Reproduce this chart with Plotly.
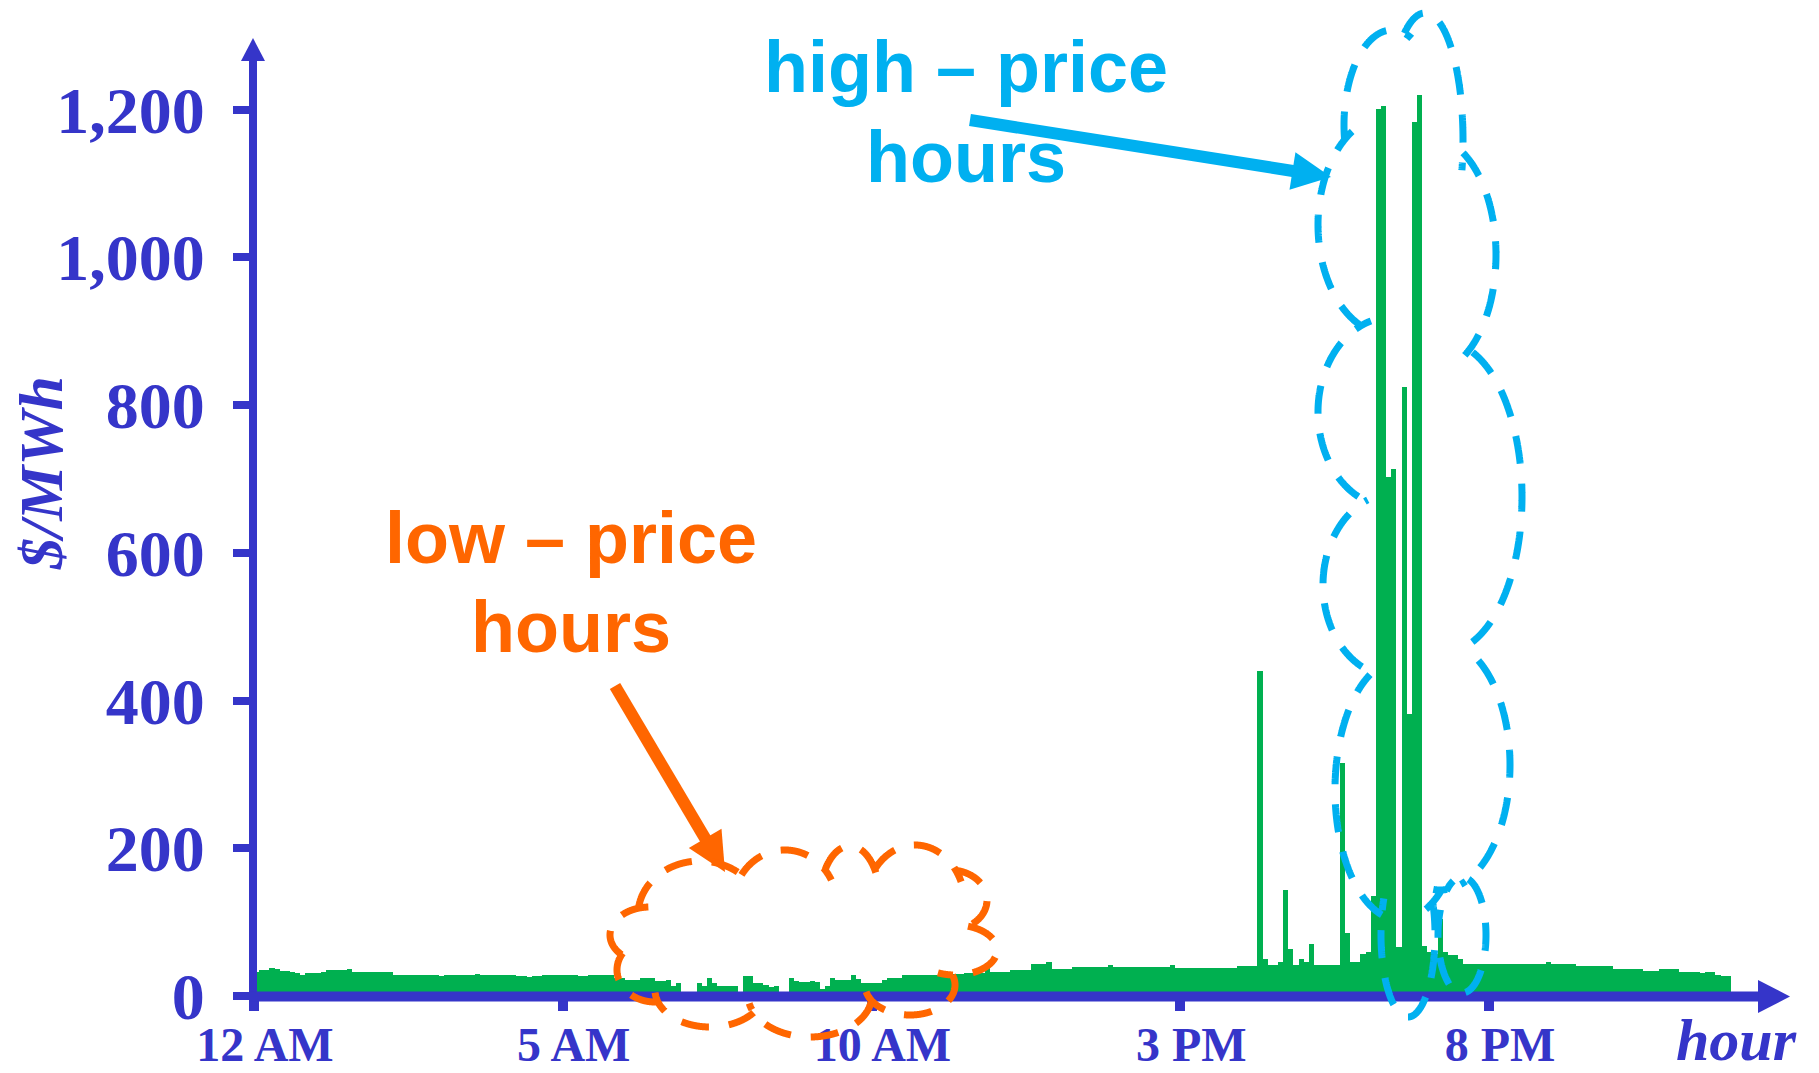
import numpy as np
import plotly.graph_objects as go

# ---- data: 5-minute real-time prices ($/MWh), one row per hour ----
prices = [
    32, 35, 35, 38, 36, 34, 34, 32, 31, 29, 31, 31,        # 12 AM
    31, 32, 35, 35, 35, 35, 37, 32, 32, 32, 32, 32,        # 1 AM
    32, 32, 32, 29, 29, 29, 29, 29, 29, 29, 29, 29,        # 2 AM
    27, 29, 29, 29, 29, 29, 29, 30, 29, 29, 29, 29,        # 3 AM
    29, 29, 29, 27, 27, 26, 27, 27, 29, 29, 29, 28,        # 4 AM
    29, 29, 29, 27, 27, 28, 28, 29, 28, 28, 24, 24,        # 5 AM
    22, 22, 22, 24, 24, 24, 20, 20, 21, 14, 17, 3,         # 6 AM
    2, 3, 17, 14, 24, 17, 14, 14, 14, 14, 3, 27,           # 7 AM
    27, 18, 18, 15, 12, 14, 3, 3, 24, 20, 19, 19,          # 8 AM
    20, 19, 10, 13, 24, 21, 21, 22, 28, 23, 18, 18,        # 9 AM
    18, 18, 21, 24, 24, 24, 28, 28, 28, 28, 28, 28,        # 10 AM
    28, 29, 29, 30, 30, 30, 31, 31, 31, 31, 38, 32,        # 11 AM
    32, 32, 32, 35, 35, 35, 35, 43, 43, 43, 46, 36,        # 12 PM
    36, 36, 36, 39, 39, 39, 39, 39, 39, 39, 42, 39,        # 1 PM
    39, 39, 39, 39, 39, 39, 39, 39, 39, 39, 42, 38,        # 2 PM
    38, 38, 38, 38, 38, 38, 38, 38, 38, 38, 38, 40,        # 3 PM
    40, 40, 40, 440, 50, 42, 42, 46, 143, 64, 42, 50,      # 4 PM
    46, 71, 42, 42, 42, 42, 42, 316, 85, 46, 46, 57,       # 5 PM
    60, 136, 1201, 1205, 703, 713, 67, 825, 382, 1183, 1219, 68,  # 6 PM
    60, 57, 104, 60, 56, 56, 50, 43, 43, 43, 43, 43,       # 7 PM
    43, 43, 43, 43, 43, 43, 43, 43, 43, 43, 43, 46,        # 8 PM
    44, 44, 44, 44, 44, 40, 40, 40, 41, 41, 41, 41,        # 9 PM
    37, 37, 37, 36, 36, 36, 34, 34, 34, 36, 36, 36,        # 10 PM
    36, 33, 33, 33, 33, 31, 33, 33, 29, 27, 27,            # 11 PM
]
hour_ticks = [0, 5, 10, 15, 20]
hour_labels = ["12 AM", "5 AM", "10 AM", "3 PM", "8 PM"]
price_ticks = [0, 200, 400, 600, 800, 1000, 1200]
price_labels = ["0", "200", "400", "600", "800", "1,000", "1,200"]

BLUE = "#3535C9"
GREEN = "#00B050"
ORANGE = "#FF6600"
CYAN = "#00B0F0"

W, H = 1819, 1073
L, R, T, B = 254, 1790, 38, 996          # plot area edges (px)
PX_PER_HOUR = 61.75
PX_PER_UNIT = 0.73875

def px(x):
    return (x - L) / (R - L)

def py(y):
    return (B - y) / (B - T)

hours = (np.arange(len(prices)) + 0.5) / 12.0

fig = go.Figure(go.Bar(
    x=hours, y=prices, width=1 / 12.0,
    marker=dict(color=GREEN, line=dict(width=0)),
    hoverinfo="skip",
))

serif = "Liberation Serif"
sans = "Liberation Sans"

fig.update_layout(
    width=W, height=H,
    margin=dict(l=L, r=W - R, t=T, b=H - B, autoexpand=False),
    paper_bgcolor="white", plot_bgcolor="white",
    showlegend=False, bargap=0,
    xaxis=dict(
        range=[0, (R - L) / PX_PER_HOUR], automargin=False,
        tickvals=hour_ticks, ticktext=hour_labels,
        ticks="outside", ticklen=14, tickwidth=10, tickcolor=BLUE,
        tickfont=dict(family=serif, size=48, color=BLUE, weight="bold"),
        ticklabelstandoff=-8, ticklabelshift=11,
        showgrid=False, zeroline=False, showline=False,
    ),
    yaxis=dict(
        range=[0, (B - T) / PX_PER_UNIT], automargin=False,
        tickvals=price_ticks, ticktext=price_labels,
        ticks="outside", ticklen=20, tickwidth=8, tickcolor=BLUE,
        tickfont=dict(family=serif, size=66, color=BLUE, weight="bold"),
        ticklabelstandoff=15,
        showgrid=False, zeroline=False, showline=False,
    ),
)

shapes = []

def tri(p1, p2, p3, color):
    path = "M {:.5f},{:.5f} L {:.5f},{:.5f} L {:.5f},{:.5f} Z".format(
        px(p1[0]), py(p1[1]), px(p2[0]), py(p2[1]), px(p3[0]), py(p3[1]))
    return dict(type="path", xref="paper", yref="paper", path=path,
                fillcolor=color, line=dict(width=0), layer="above")

def seg(a, b, color, width):
    return dict(type="line", xref="paper", yref="paper",
                x0=px(a[0]), y0=py(a[1]), x1=px(b[0]), y1=py(b[1]),
                line=dict(color=color, width=width), layer="above")

# axes with arrowheads
shapes.append(seg((253, 1001), (253, 58), BLUE, 8))
shapes.append(tri((241, 61), (265, 61), (253, 38), BLUE))
shapes.append(seg((249, 996.5), (1762, 996.5), BLUE, 10))
shapes.append(tri((1758, 980), (1758, 1013), (1790, 996.5), BLUE))

def arrow(tail, tip, color, width=12, head_len=39, head_half=19):
    tail = np.array(tail, float)
    tip = np.array(tip, float)
    u = (tip - tail) / np.linalg.norm(tip - tail)
    n = np.array([-u[1], u[0]])
    base = tip - head_len * u
    out = [seg(tail, base + 2 * u, color, width)]
    out.append(tri(base + head_half * n, base - head_half * n, tip, color))
    return out

shapes += arrow((970, 120), (1331, 177), CYAN)
shapes += arrow((615, 686), (725, 872), ORANGE)

def inside(xs, ys, e):
    cx, cy, rx, ry = e
    return ((xs - cx) / rx) ** 2 + ((ys - cy) / ry) ** 2 < 1

def cloud(lobes, fillers, color, n=1440, hook_px=12):
    """Dashed outline of a union of elliptical lobes (cloud callout)."""
    parts = []
    for k, (cx, cy, rx, ry) in enumerate(lobes):
        t = np.linspace(0, 2 * np.pi, n, endpoint=False)
        xs = cx + rx * np.cos(t)
        ys = cy + ry * np.sin(t)
        keep = np.ones(n, bool)
        for j, e in enumerate(lobes):
            if j != k:
                keep &= ~inside(xs, ys, e)
        for e in fillers:
            keep &= ~inside(xs, ys, e)
        if not keep.any():
            continue
        if keep.all():
            runs = [list(range(n)) + [0]]
        else:
            start = int(np.argmin(keep))
            runs, run = [], []
            for i in np.roll(np.arange(n), -start):
                if keep[i]:
                    run.append(int(i))
                else:
                    if len(run) > 1:
                        runs.append(run)
                    run = []
            if len(run) > 1:
                runs.append(run)
            step = 2 * np.pi * (rx + ry) / 2 / n
            m = int(round(hook_px / step))
            runs = [r + [(r[-1] + s) % n for s in range(1, m + 1)] for r in runs]
        for r in runs:
            pts = ["{:.5f},{:.5f}".format(px(xs[i]), py(ys[i])) for i in r]
            parts.append("M " + " L ".join(pts))
    return dict(type="path", xref="paper", yref="paper", path=" ".join(parts),
                line=dict(color=color, width=7, dash="28px,20px"),
                fillcolor="rgba(0,0,0,0)", layer="above")

blue_lobes = [
    (1392, 125, 48, 95),
    (1425, 140, 38, 127),
    (1390, 225, 72, 110),
    (1392, 412, 74, 95),
    (1395, 585, 72, 92),
    (1400, 790, 65, 130),
    (1430, 255, 66, 118),
    (1445, 497, 77, 155),
    (1440, 765, 70, 125),
    (1408, 935, 27, 82),
    (1462, 935, 24, 58),
]
blue_core = [(1420, 540, 62, 350)]

orange_lobes = [
    (700, 915, 62, 54),
    (785, 905, 52, 55),
    (850, 900, 30, 54),
    (915, 905, 50, 60),
    (950, 900, 37, 30),
    (955, 950, 42, 25),
    (910, 985, 45, 30),
    (810, 995, 62, 42),
    (710, 990, 55, 37),
    (655, 970, 38, 32),
    (650, 935, 40, 28),
]
orange_core = [(805, 940, 165, 62)]

shapes.append(cloud(blue_lobes, blue_core, CYAN))
shapes.append(cloud(orange_lobes, orange_core, ORANGE))

fig.update_layout(shapes=shapes)

def label(text, x, y, color, size, family, angle=0):
    fig.add_annotation(text=text, xref="paper", yref="paper", x=px(x), y=py(y),
                       xanchor="center", yanchor="middle", showarrow=False,
                       textangle=angle,
                       font=dict(family=family, size=size, color=color))

label("<b>high \u2013 price</b>", 966, 67, CYAN, 72, sans)
label("<b>hours</b>", 966, 157, CYAN, 72, sans)
label("<b>low \u2013 price</b>", 571, 538, ORANGE, 72, sans)
label("<b>hours</b>", 571, 627, ORANGE, 72, sans)
label("<b><i>$/MWh</i></b>", 41, 473, BLUE, 62, serif, angle=-90)
label("<b><i>hour</i></b>", 1736, 1040, BLUE, 60, serif)

fig.write_html("out.html")
